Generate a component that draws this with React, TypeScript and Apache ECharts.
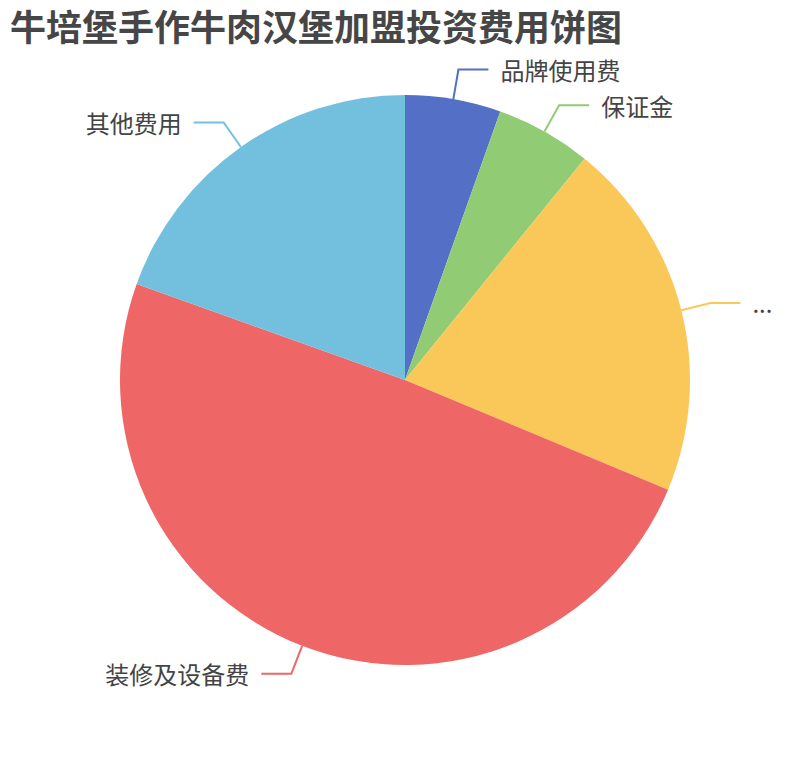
import { useEffect, useRef } from 'react';
import * as echarts from 'echarts';

const titleText = '牛培堡手作牛肉汉堡加盟投资费用饼图';
const categories = ['品牌使用费', '保证金', '首批进货及原料费用', '装修及设备费', '其他费用'];
const values = [3, 3, 11.3, 27.2, 10.8];
const colors = ['#5470c6', '#91cc75', '#fac858', '#ee6666', '#73c0de'];

export default function App() {
  const chartRef = useRef<HTMLDivElement>(null);

  useEffect(() => {
    if (!chartRef.current) return;
    const chart = echarts.init(chartRef.current, undefined, { renderer: 'svg' });
    chart.setOption({
      animation: false,
      color: colors,
      title: {
        text: titleText,
        left: 5,
        top: 2,
        textStyle: {
          fontSize: 36,
          fontWeight: 'bold',
          color: '#464646',
          fontFamily: 'Noto Sans CJK SC',
        },
      },
      series: [
        {
          type: 'pie',
          radius: '75%',
          center: ['50%', '50%'],
          label: {
            fontSize: 24,
            color: '#444',
            fontFamily: 'Noto Sans CJK SC',
            distanceToLabelLine: 12,
            bleedMargin: 24,
          },
          labelLine: { length: 30, length2: 30, lineStyle: { width: 2 } },
          data: categories.map((name, i) => ({ name, value: values[i] })),
        },
      ],
    });
    return () => chart.dispose();
  }, []);

  return (
    <div
      ref={chartRef}
      style={{ position: 'absolute', left: 0, top: 0, width: 810, height: 760 }}
    />
  );
}
